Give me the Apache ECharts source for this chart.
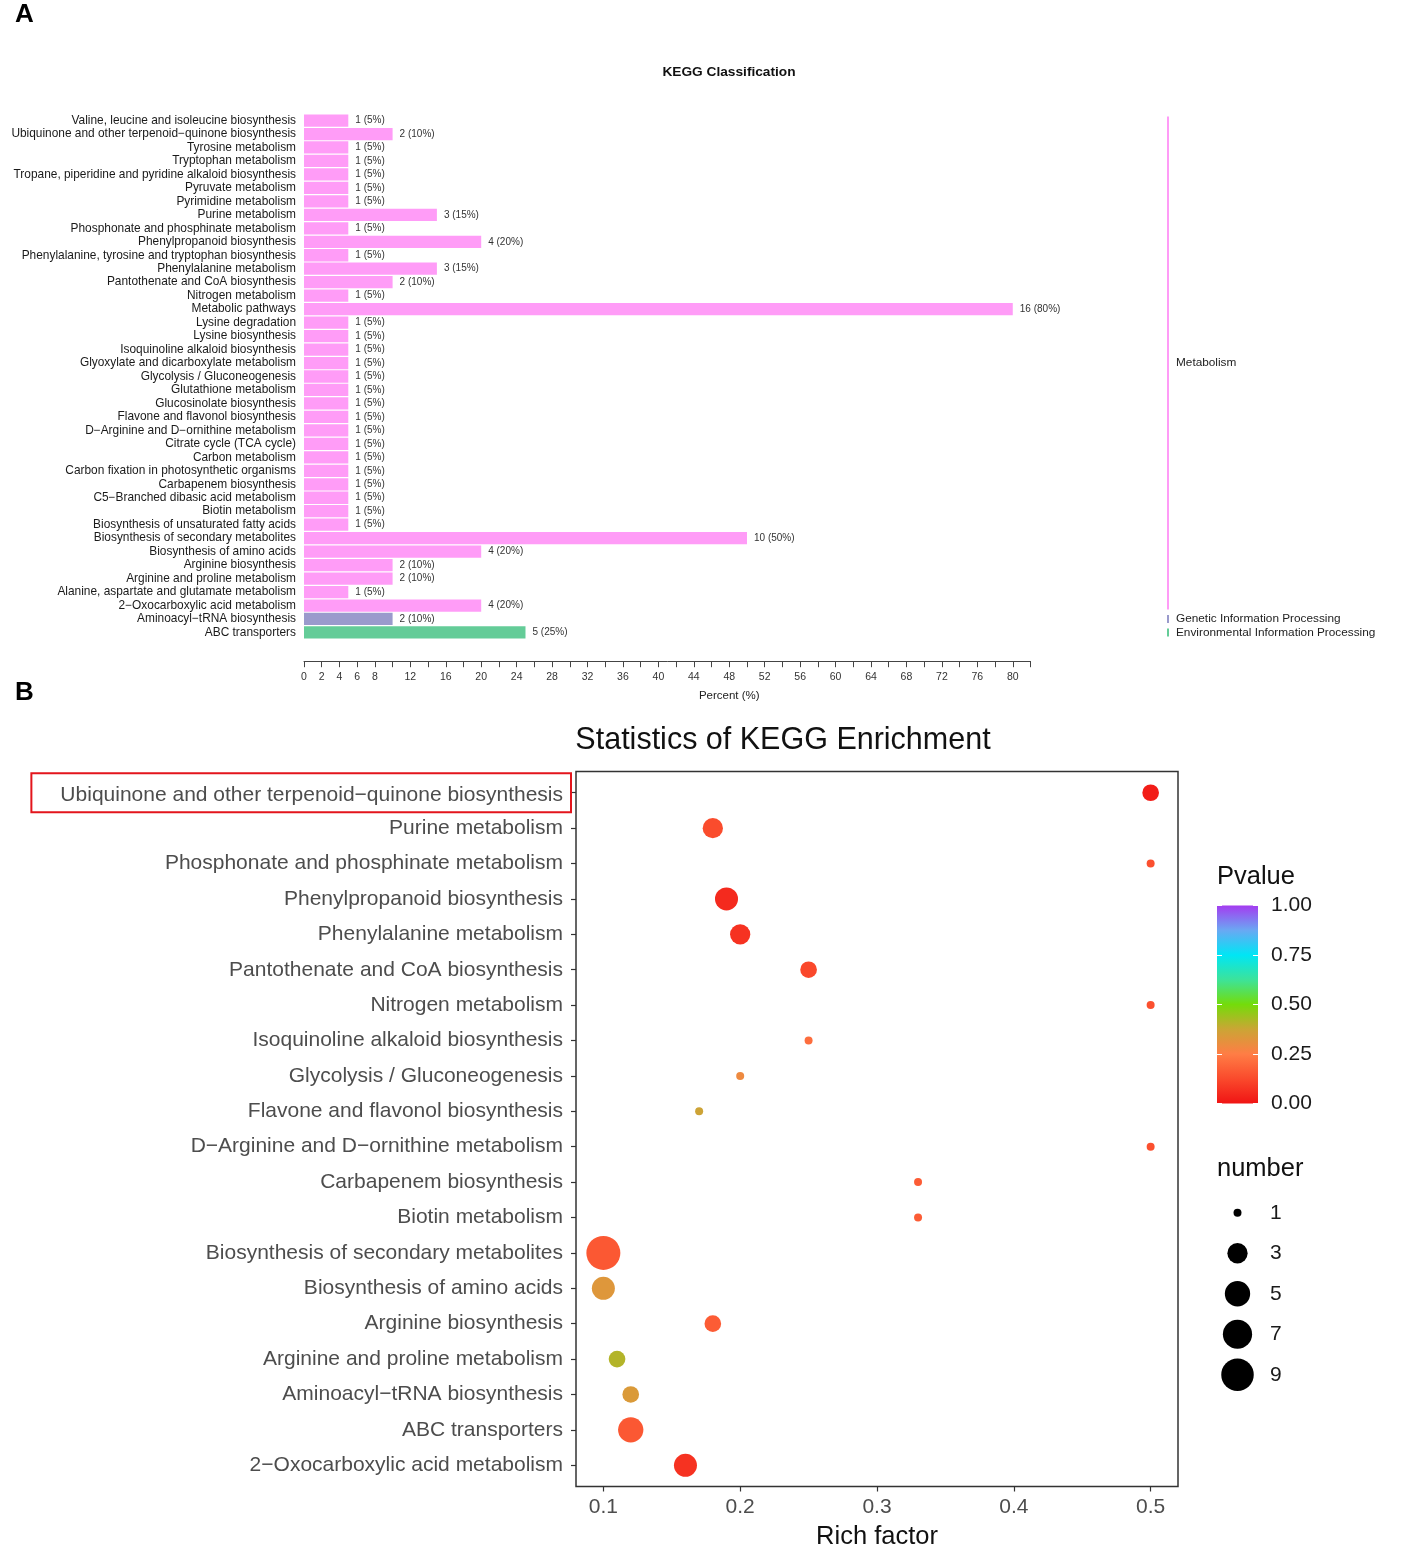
<!DOCTYPE html>
<html><head><meta charset="utf-8">
<script src="https://cdn.jsdelivr.net/npm/echarts@6/dist/echarts.min.js"></script>
<style>html,body{margin:0;padding:0;background:#fff}#c{width:1417px;height:1566px}</style>
</head><body><div id="c"></div>
<script>
// ---------- Panel A data ----------
const classNames = ['Metabolism', 'Genetic Information Processing', 'Environmental Information Processing'];
const totalGenes = 20;
const catA = [
  'Valine, leucine and isoleucine biosynthesis',
  'Ubiquinone and other terpenoid\u2212quinone biosynthesis',
  'Tyrosine metabolism',
  'Tryptophan metabolism',
  'Tropane, piperidine and pyridine alkaloid biosynthesis',
  'Pyruvate metabolism',
  'Pyrimidine metabolism',
  'Purine metabolism',
  'Phosphonate and phosphinate metabolism',
  'Phenylpropanoid biosynthesis',
  'Phenylalanine, tyrosine and tryptophan biosynthesis',
  'Phenylalanine metabolism',
  'Pantothenate and CoA biosynthesis',
  'Nitrogen metabolism',
  'Metabolic pathways',
  'Lysine degradation',
  'Lysine biosynthesis',
  'Isoquinoline alkaloid biosynthesis',
  'Glyoxylate and dicarboxylate metabolism',
  'Glycolysis / Gluconeogenesis',
  'Glutathione metabolism',
  'Glucosinolate biosynthesis',
  'Flavone and flavonol biosynthesis',
  'D\u2212Arginine and D\u2212ornithine metabolism',
  'Citrate cycle (TCA cycle)',
  'Carbon metabolism',
  'Carbon fixation in photosynthetic organisms',
  'Carbapenem biosynthesis',
  'C5\u2212Branched dibasic acid metabolism',
  'Biotin metabolism',
  'Biosynthesis of unsaturated fatty acids',
  'Biosynthesis of secondary metabolites',
  'Biosynthesis of amino acids',
  'Arginine biosynthesis',
  'Arginine and proline metabolism',
  'Alanine, aspartate and glutamate metabolism',
  '2\u2212Oxocarboxylic acid metabolism',
  'Aminoacyl\u2212tRNA biosynthesis',
  'ABC transporters'
];
const countA = [1,2,1,1,1,1,1,3,1,4,1,3,2,1,16,1,1,1,1,1,1,1,1,1,1,1,1,1,1,1,1,10,4,2,2,1,4,2,5];
const classA = [0,0,0,0,0,0,0,0,0,0,0,0,0,0,0,0,0,0,0,0,0,0,0,0,0,0,0,0,0,0,0,0,0,0,0,0,0,1,2];

// ---------- Panel B data ----------
const catB = [
  'Ubiquinone and other terpenoid\u2212quinone biosynthesis',
  'Purine metabolism',
  'Phosphonate and phosphinate metabolism',
  'Phenylpropanoid biosynthesis',
  'Phenylalanine metabolism',
  'Pantothenate and CoA biosynthesis',
  'Nitrogen metabolism',
  'Isoquinoline alkaloid biosynthesis',
  'Glycolysis / Gluconeogenesis',
  'Flavone and flavonol biosynthesis',
  'D\u2212Arginine and D\u2212ornithine metabolism',
  'Carbapenem biosynthesis',
  'Biotin metabolism',
  'Biosynthesis of secondary metabolites',
  'Biosynthesis of amino acids',
  'Arginine biosynthesis',
  'Arginine and proline metabolism',
  'Aminoacyl\u2212tRNA biosynthesis',
  'ABC transporters',
  '2\u2212Oxocarboxylic acid metabolism'
];
const richB = [0.5,0.18,0.5,0.19,0.2,0.25,0.5,0.25,0.2,0.17,0.5,0.33,0.33,0.1,0.1,0.18,0.11,0.12,0.12,0.16];
const numB  = [2,3,1,4,3,2,1,1,1,1,1,1,1,10,4,2,2,2,5,4];
const pvalB = [0.02,0.13,0.14,0.05,0.07,0.12,0.14,0.21,0.29,0.37,0.14,0.17,0.17,0.16,0.33,0.17,0.41,0.34,0.16,0.07];
const highlightB = 'Ubiquinone and other terpenoid\u2212quinone biosynthesis';
const richTicks = [0.1,0.2,0.3,0.4,0.5];
const sizeKeys = [1,3,5,7,9];

// ---------- styles ----------
const FF = '"Liberation Sans", Arial, Helvetica, sans-serif';
const classColors = ['#ff9cf7', '#9a9acc', '#64cc98'];
const pColors = ['#f01414', '#fa4a2c', '#ff7d45', '#cba535', '#74dc0a', '#3ce39a', '#00e6f5', '#6aa8f3', '#a43cf0'];
const nMin = Math.min(...numB), nMax = Math.max(...numB);
const sizeOf = n => 8 + 26 * Math.sqrt((n - nMin) / (nMax - nMin));

// class groups (first/last category index)
const groups = classNames.map((name, ci) => {
  const idx = classA.map((c, i) => c === ci ? i : -1).filter(i => i >= 0);
  return [0.5, idx[0], idx[idx.length - 1], ci];
});

const chart = echarts.init(document.getElementById('c'), null, {renderer: 'canvas'});
const option = {
  backgroundColor: '#fff',
  animation: false,
  textStyle: {fontFamily: FF},
  graphic: [
    {type: 'text', x: 15, y: 15, style: {text: 'A', font: 'bold 26px ' + FF, fill: '#000', verticalAlign: 'middle'}},
    {type: 'text', x: 729, y: 72, style: {text: 'KEGG Classification', font: 'bold 13.7px ' + FF, fill: '#111', align: 'center', verticalAlign: 'middle'}},
    {type: 'text', x: 15, y: 693, style: {text: 'B', font: 'bold 26px ' + FF, fill: '#000', verticalAlign: 'middle'}},
    {type: 'text', x: 783, y: 741, style: {text: 'Statistics of KEGG Enrichment', font: '30.5px ' + FF, fill: '#111', align: 'center', verticalAlign: 'middle'}},
    {type: 'text', x: 1217, y: 877, style: {text: 'Pvalue', font: '25.5px ' + FF, fill: '#111', verticalAlign: 'middle'}},
    {type: 'text', x: 1217, y: 1169, style: {text: 'number', font: '25.5px ' + FF, fill: '#111', verticalAlign: 'middle'}}
  ],
  grid: [
    {left: 304, top: 113.8, width: 726.5, height: 525.4, outerBoundsMode: 'none'},
    {left: 1164, top: 113.8, width: 8, height: 525.4, outerBoundsMode: 'none'},
    {left: 576, top: 771.5, width: 602, height: 715, show: true, borderColor: '#333', borderWidth: 1.5, outerBoundsMode: 'none'},
    {left: 1217, top: 905.5, width: 41, height: 198, outerBoundsMode: 'none'},
    {left: 1217, top: 1192.5, width: 41, height: 202.5, outerBoundsMode: 'none'}
  ],
  xAxis: [
    {gridIndex: 0, type: 'value', min: 0, max: 82, interval: 2, offset: 22,
     axisLine: {show: true, onZero: false, lineStyle: {color: '#444', width: 1}},
     axisTick: {show: true, length: 6, lineStyle: {color: '#444'}},
     splitLine: {show: false},
     axisLabel: {fontSize: 10.5, color: '#333', margin: 10,
       formatter: v => (v <= 8 || v % 4 === 0) && v <= 80 ? String(v) : ''},
     name: 'Percent (%)', nameLocation: 'middle', nameGap: 29,
     nameTextStyle: {fontSize: 11.5, color: '#222', padding: [0, 0, 0, 124]}},
    {gridIndex: 1, type: 'value', min: 0, max: 1, show: false},
    {gridIndex: 2, type: 'value', min: 0.08, max: 0.52,
     axisLine: {show: false, onZero: false},
     axisTick: {show: true, length: 5, customValues: richTicks, lineStyle: {color: '#333', width: 1.2}},
     splitLine: {show: false},
     axisLabel: {customValues: richTicks, fontSize: 21, color: '#4d4d4d', margin: 10, formatter: v => String(v)},
     name: 'Rich factor', nameLocation: 'middle', nameGap: 37,
     nameTextStyle: {fontSize: 25.5, color: '#111'}},
    {gridIndex: 3, type: 'category', data: ['p'], show: false},
    {gridIndex: 4, type: 'value', min: 0, max: 1, show: false}
  ],
  yAxis: [
    {gridIndex: 0, type: 'category', data: catA, inverse: true,
     axisLine: {show: false}, axisTick: {show: false},
     axisLabel: {fontSize: 11.9, color: '#1a1a1a', margin: 8, interval: 0}},
    {gridIndex: 1, type: 'category', data: catA, inverse: true, show: false},
    {gridIndex: 2, type: 'value', inverse: true, min: -0.6, max: catB.length - 0.4,
     axisLine: {show: false, onZero: false},
     splitLine: {show: false},
     axisTick: {show: true, length: 5, customValues: catB.map((_, i) => i), lineStyle: {color: '#333', width: 1.2}},
     axisLabel: {customValues: catB.map((_, i) => i), margin: 5,
       formatter: v => {
         const name = catB[Math.round(v)];
         return name === highlightB ? '{hl|' + name + '}' : '{n|' + name + '}';
       },
       rich: {
         n: {fontSize: 21, color: '#4d4d4d', fontFamily: FF, padding: [0, 8, 0, 0]},
         hl: {fontSize: 21, color: '#4d4d4d', fontFamily: FF, padding: [11, 8, 7, 29], borderColor: '#e3151c', borderWidth: 2}
       }}},
    {gridIndex: 3, type: 'value', min: 0, max: 1, interval: 0.25, position: 'right', z: 5,
     axisLine: {show: false, onZero: false}, splitLine: {show: false},
     axisTick: {show: true, inside: true, length: 5, lineStyle: {color: '#fff', width: 1}},
     axisLabel: {fontSize: 21, color: '#1a1a1a', margin: 13, formatter: v => v.toFixed(2)}},
    {gridIndex: 3, type: 'value', min: 0, max: 1, interval: 0.25, position: 'left', z: 5,
     axisLine: {show: false, onZero: false}, splitLine: {show: false}, axisLabel: {show: false},
     axisTick: {show: true, inside: true, length: 5, lineStyle: {color: '#fff', width: 1}}},
    {gridIndex: 4, type: 'category', data: sizeKeys.map(String), inverse: true, position: 'right',
     axisLine: {show: false}, axisTick: {show: false},
     axisLabel: {fontSize: 21, color: '#1a1a1a', margin: 12}}
  ],
  visualMap: [{
    type: 'continuous', show: false, seriesIndex: 2, dimension: 3, min: 0, max: 1,
    inRange: {color: pColors}
  }],
  series: [
    {type: 'bar', xAxisIndex: 0, yAxisIndex: 0, barCategoryGap: '9%',
     data: countA.map((n, i) => ({value: n / totalGenes * 100, itemStyle: {color: classColors[classA[i]]}})),
     label: {show: true, position: 'right', distance: 7, fontSize: 10, color: '#333',
       formatter: p => countA[p.dataIndex] + ' (' + Math.round(countA[p.dataIndex] / totalGenes * 100) + '%)'}},
    {type: 'custom', xAxisIndex: 1, yAxisIndex: 1, data: groups,
     renderItem: (params, api) => {
       const first = api.value(1), last = api.value(2), ci = api.value(3);
       const p0 = api.coord([0.5, first]);
       const p1 = api.coord([0.5, last]);
       const band = api.size([0, 1])[1];
       const y0 = p0[1] - band * 0.3, y1 = p1[1] + band * 0.3;
       return {type: 'group', children: [
         {type: 'line', shape: {x1: p0[0], y1: y0, x2: p0[0], y2: y1}, style: {stroke: classColors[ci], lineWidth: 2}},
         {type: 'text', style: {x: p0[0] + 8, y: (y0 + y1) / 2, text: classNames[ci], font: '11.8px ' + FF, fill: '#222', align: 'left', verticalAlign: 'middle'}}
       ]};
     }},
    {type: 'scatter', xAxisIndex: 2, yAxisIndex: 2,
     data: catB.map((c, i) => [richB[i], i, numB[i], pvalB[i]]),
     symbolSize: v => sizeOf(v[2]),
     itemStyle: {opacity: 1}},
    {type: 'bar', xAxisIndex: 3, yAxisIndex: 3, barWidth: '100%', data: [1], silent: true,
     itemStyle: {color: {type: 'linear', x: 0, y: 1, x2: 0, y2: 0,
       colorStops: pColors.map((c, i) => ({offset: i / (pColors.length - 1), color: c}))}}},
    {type: 'scatter', xAxisIndex: 4, yAxisIndex: 5,
     data: sizeKeys.map((n, i) => [0.5, i, n]),
     symbolSize: v => sizeOf(v[2]),
     itemStyle: {color: '#000', opacity: 1}}
  ]
};
chart.setOption(option);
</script></body></html>
